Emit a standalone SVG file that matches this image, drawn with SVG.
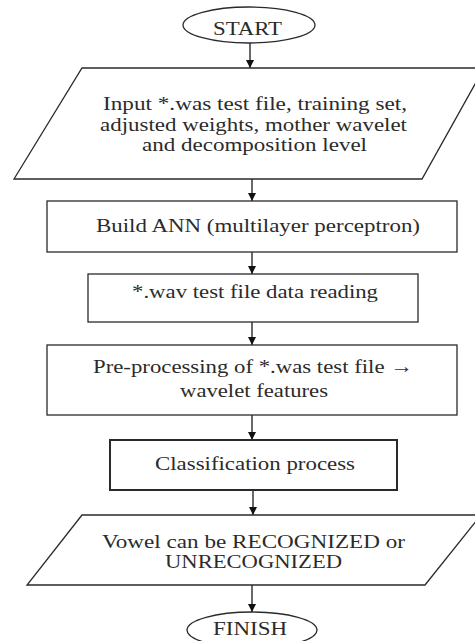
<svg xmlns="http://www.w3.org/2000/svg" width="475" height="641" viewBox="0 0 475 641">
  <style>
    .shape { fill: #ffffff; stroke: #2a2a2a; stroke-width: 1.3; }
    .thick { stroke-width: 2; }
    .label { font-family: "Liberation Serif", "Times New Roman", serif; font-size: 19.5px; fill: #2b2b2b; text-anchor: middle; }
    .edge { stroke: #1a1a1a; stroke-width: 1.3; fill: none; marker-end: url(#arrow); }
  </style>
  <defs>
    <marker id="arrow" viewBox="0 0 8 8" refX="8" refY="4" markerWidth="8" markerHeight="8" markerUnits="userSpaceOnUse" orient="auto">
      <path d="M0,0 L8,4 L0,8 Z" fill="#111111"/>
    </marker>
  </defs>
  <rect width="475" height="641" fill="#ffffff"/>

  <g id="connectors">
    <line class="edge" x1="250" y1="43" x2="250" y2="68"/>
    <line class="edge" x1="252" y1="179" x2="252" y2="201"/>
    <line class="edge" x1="252" y1="252" x2="252" y2="274"/>
    <line class="edge" x1="252" y1="322" x2="252" y2="345"/>
    <line class="edge" x1="252" y1="415" x2="252" y2="440"/>
    <line class="edge" x1="253" y1="490" x2="253" y2="515"/>
    <line class="edge" x1="252" y1="585" x2="252" y2="612"/>
  </g>

  <g id="start">
    <ellipse class="shape" cx="249" cy="25" rx="66" ry="18"/>
    <text class="label" x="247.5" y="35" textLength="69" lengthAdjust="spacingAndGlyphs">START</text>
  </g>

  <g id="input">
    <polygon class="shape" points="82,68 484,68 422,179 14,179"/>
    <text class="label" x="255" y="110" textLength="304" lengthAdjust="spacingAndGlyphs">Input *.was test file, training set,</text>
    <text class="label" x="253.5" y="131" textLength="307" lengthAdjust="spacingAndGlyphs">adjusted weights, mother wavelet</text>
    <text class="label" x="254.5" y="151" textLength="225" lengthAdjust="spacingAndGlyphs">and decomposition level</text>
  </g>

  <g id="build-ann">
    <rect class="shape" x="47" y="201" width="410" height="51"/>
    <text class="label" x="258" y="232" textLength="324" lengthAdjust="spacingAndGlyphs">Build ANN (multilayer perceptron)</text>
  </g>

  <g id="read-wav">
    <rect class="shape" x="88" y="274" width="330" height="48"/>
    <text class="label" x="255" y="298" textLength="246" lengthAdjust="spacingAndGlyphs">*.wav test file data reading</text>
  </g>

  <g id="preprocess">
    <rect class="shape" x="47" y="345" width="410" height="70"/>
    <text class="label" x="253" y="373" textLength="320" lengthAdjust="spacingAndGlyphs">Pre-processing of *.was test file →</text>
    <text class="label" x="254" y="397" textLength="148" lengthAdjust="spacingAndGlyphs">wavelet features</text>
  </g>

  <g id="classify">
    <rect class="shape thick" x="110" y="440" width="287" height="50"/>
    <text class="label" x="255" y="470" textLength="200" lengthAdjust="spacingAndGlyphs">Classification process</text>
  </g>

  <g id="result">
    <polygon class="shape" points="82,515 481,515 425,585 27,585"/>
    <text class="label" x="253.5" y="548" textLength="303" lengthAdjust="spacingAndGlyphs">Vowel can be RECOGNIZED or</text>
    <text class="label" x="253.5" y="568" textLength="177" lengthAdjust="spacingAndGlyphs">UNRECOGNIZED</text>
  </g>

  <g id="finish">
    <ellipse class="shape" cx="252" cy="630" rx="65" ry="18"/>
    <text class="label" x="250" y="635" textLength="74" lengthAdjust="spacingAndGlyphs">FINISH</text>
  </g>
</svg>
